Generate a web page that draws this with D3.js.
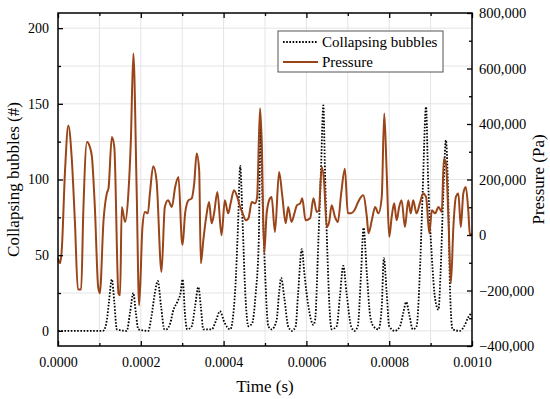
<!DOCTYPE html>
<html><head><meta charset="utf-8">
<script src="https://cdn.jsdelivr.net/npm/d3@7"></script>
<style>
html,body{margin:0;padding:0;background:#fff;}
text{font-family:"Liberation Serif","Times New Roman",serif;fill:#000;}
</style></head>
<body><svg id="c" width="550" height="399"></svg>
<script>
// time in microseconds, pressure in kPa
const pressureTime = [0,5,9,17,25,33,41,48,56,61,70,77,82,89,97,101,110,118,122,130,136,146,150,154,162,170,176,182,190,196,204,210,217,222,230,238,250,258,266,275,283,291,299,301,307,315,323,329,335,341,345,351,358,365,371,377,385,395,403,411,417,425,433,440,446,454,460,468,476,481,488,492,498,504,512,516,524,534,542,550,556,564,571,577,585,590,598,609,617,625,630,637,643,649,655,661,669,676,684,693,700,708,716,725,737,746,750,758,766,774,782,788,794,800,806,812,818,824,830,838,846,852,858,866,874,882,889,897,903,911,919,927,932,937,943,949,955,961,967,973,979,985,991,995,1000];
const pressureVals = [-84,-102,-55,233,395,281,42,-196,-196,78,335,317,281,101,-187,-210,53,150,168,353,317,-210,-217,101,47,150,341,654,161,-253,29,83,78,150,248,197,-133,101,125,101,173,209,-19,-35,78,125,132,186,294,233,-102,-19,65,119,42,78,155,-1,125,78,114,161,137,101,78,53,60,119,114,137,457,341,-66,78,132,137,11,227,137,42,101,47,78,107,114,132,53,60,132,83,89,245,186,29,47,107,65,47,150,239,78,78,89,119,143,65,6,53,101,78,137,438,223,-7,65,114,53,101,125,29,125,78,125,78,114,150,137,6,89,78,101,83,275,259,65,-174,29,137,150,29,150,173,89,-1,6];
const bubbleTime = [0,109,118,123,130,136,142,166,174,182,188,194,218,226,234,241,249,257,262,271,279,288,296,301,307,312,323,331,339,345,351,371,382,391,403,416,428,435,440,446,452,460,469,477,485,489,494,500,508,516,528,534,539,547,556,565,574,580,589,595,605,617,621,629,635,641,645,651,657,661,673,681,689,697,708,716,724,732,738,746,754,762,774,782,787,794,800,814,826,834,841,849,857,866,874,881,889,894,903,911,919,924,931,937,943,947,953,971,981,991,1000];
const bubbleVals = [0,0,7,19,34,19,1,0,12,25,12,1,0,10,25,33,16,1,1,5,14,19,25,34,10,1,3,16,29,16,1,1,7,13,5,1,27,71,109,71,27,3,5,23,60,136,87,40,3,1,7,25,35,21,3,0,3,25,54,38,16,4,7,60,104,149,104,49,10,1,3,23,43,25,3,0,3,38,68,38,10,3,1,16,48,25,3,0,3,12,19,10,1,3,38,93,148,100,49,21,14,38,93,126,82,27,1,0,3,9,12];
const xTicks = [0,200,400,600,800,1000];
const leftTicks = [0,50,100,150,200];
const rightTicks = [-400,-200,0,200,400,600,800];
const seriesNames = ["Collapsing bubbles","Pressure"];
const axisTitles = {x:"Time (s)", left:"Collapsing bubbles (#)", right:"Pressure (Pa)"};

const svg = d3.select("#c");
const L=58, R=472, T=13, B=346;
const x = d3.scaleLinear().domain([0,1000]).range([L,R]);
const yL = d3.scaleLinear().domain([-10,210]).range([B,T]);
const yR = d3.scaleLinear().domain([-400,800]).range([B,T]);

// grid
const g = svg.append("g");
g.selectAll(".vg").data(d3.range(100,1000,100)).join("line")
  .attr("x1",d=>x(d)).attr("x2",d=>x(d)).attr("y1",T).attr("y2",B)
  .attr("stroke","#e4e4e4").attr("stroke-width",1);
g.selectAll(".hg").data(d3.range(0,210,25)).join("line")
  .attr("y1",d=>yL(d)).attr("y2",d=>yL(d)).attr("x1",L).attr("x2",R)
  .attr("stroke","#e4e4e4").attr("stroke-width",1);

// bubbles (dotted)
const bub = bubbleTime.map((t,i)=>[t,bubbleVals[i]]);
svg.append("path").datum(bub)
  .attr("d", d3.line().x(d=>x(d[0])).y(d=>yL(d[1])).curve(d3.curveMonotoneX))
  .attr("fill","none").attr("stroke","#000").attr("stroke-width",1.8)
  .attr("stroke-dasharray","1.6,1.6");

// pressure
const pr = pressureTime.map((t,i)=>[t,pressureVals[i]]);
svg.append("path").datum(pr)
  .attr("d", d3.line().x(d=>x(d[0])).y(d=>yR(d[1])).curve(d3.curveMonotoneX))
  .attr("fill","none").attr("stroke","#9a4519").attr("stroke-width",2);

// frame
svg.append("rect").attr("x",L).attr("y",T).attr("width",R-L).attr("height",B-T)
  .attr("fill","none").attr("stroke","#000").attr("stroke-width",1.5);

// axes with inward ticks
const fmtX = d=>(d/1e6).toFixed(4);
const fmtR = d=>d3.format(",")(d*1000);
function styleAxis(sel){ sel.select(".domain").remove(); sel.selectAll("line").attr("stroke","#000").attr("stroke-width",1.3);
  sel.selectAll("text").style("font-family",'"Liberation Serif",serif').style("font-size","14px"); }

const xb = svg.append("g").attr("transform",`translate(0,${B})`)
  .call(d3.axisBottom(x).tickValues(xTicks).tickFormat(fmtX).tickSizeInner(-5).tickPadding(11));
styleAxis(xb);
svg.append("g").attr("transform",`translate(0,${B})`)
  .call(d3.axisBottom(x).tickValues(d3.range(100,1000,200)).tickFormat("").tickSizeInner(-3)).call(styleAxis);
svg.append("g").attr("transform",`translate(0,${T})`)
  .call(d3.axisTop(x).tickValues(xTicks).tickFormat("").tickSizeInner(-5)).call(styleAxis);
svg.append("g").attr("transform",`translate(0,${T})`)
  .call(d3.axisTop(x).tickValues(d3.range(100,1000,200)).tickFormat("").tickSizeInner(-3)).call(styleAxis);

const yl = svg.append("g").attr("transform",`translate(${L},0)`)
  .call(d3.axisLeft(yL).tickValues(leftTicks).tickSizeInner(-5).tickPadding(9));
styleAxis(yl);
svg.append("g").attr("transform",`translate(${L},0)`)
  .call(d3.axisLeft(yL).tickValues([25,75,125,175]).tickFormat("").tickSizeInner(-3)).call(styleAxis);

const yr = svg.append("g").attr("transform",`translate(${R},0)`)
  .call(d3.axisRight(yR).tickValues(rightTicks).tickFormat(fmtR).tickSizeInner(-5).tickPadding(7));
styleAxis(yr);
yr.selectAll("text").style("font-size","14.5px");
svg.append("g").attr("transform",`translate(${R},0)`)
  .call(d3.axisRight(yR).tickValues([-300,-100,100,300,500,700]).tickFormat("").tickSizeInner(-3)).call(styleAxis);

// titles
svg.append("text").attr("x",(L+R)/2).attr("y",392).attr("text-anchor","middle")
  .style("font-size","17px").text(axisTitles.x);
svg.append("text").attr("transform",`translate(19,${(T+B)/2}) rotate(-90)`).attr("text-anchor","middle")
  .style("font-size","17px").text(axisTitles.left);
svg.append("text").attr("transform",`translate(544,${(T+B)/2}) rotate(-90)`).attr("text-anchor","middle")
  .style("font-size","17px").text(axisTitles.right);

// legend
const lg = svg.append("g");
lg.append("rect").attr("x",278).attr("y",31).attr("width",165).attr("height",41)
  .attr("fill","#fff").attr("stroke","#555").attr("stroke-width",1);
lg.append("line").attr("x1",283).attr("x2",318).attr("y1",42).attr("y2",42)
  .attr("stroke","#000").attr("stroke-width",1.8).attr("stroke-dasharray","1.6,1.6");
lg.append("line").attr("x1",283).attr("x2",318).attr("y1",62).attr("y2",62)
  .attr("stroke","#9a4519").attr("stroke-width",2);
lg.append("text").attr("x",322).attr("y",47).style("font-size","15px").text(seriesNames[0]);
lg.append("text").attr("x",322).attr("y",67).style("font-size","15px").text(seriesNames[1]);
</script></body></html>
